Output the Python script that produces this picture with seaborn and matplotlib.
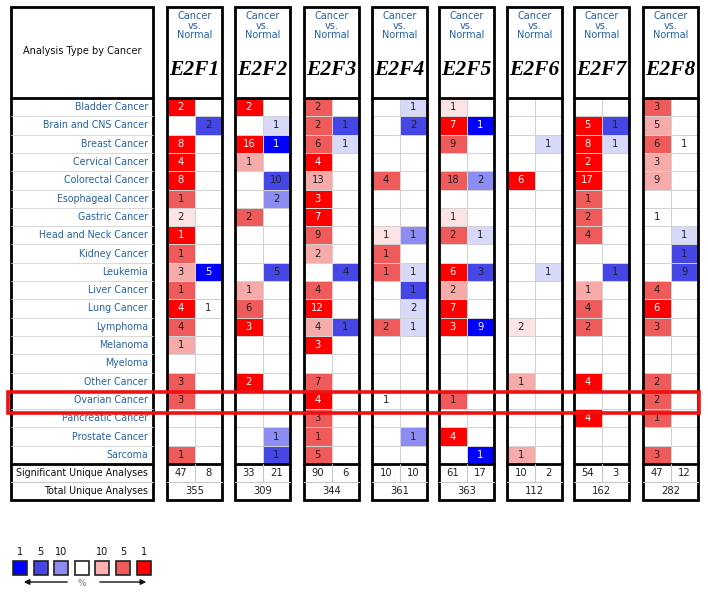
import matplotlib
matplotlib.use("Agg")
import numpy as np
import seaborn as sns
import matplotlib.pyplot as plt
from matplotlib.colors import ListedColormap
from matplotlib.patches import Rectangle

# ---------------- data ----------------
cancers = ["Bladder Cancer", "Brain and CNS Cancer", "Breast Cancer", "Cervical Cancer",
           "Colorectal Cancer", "Esophageal Cancer", "Gastric Cancer", "Head and Neck Cancer",
           "Kidney Cancer", "Leukemia", "Liver Cancer", "Lung Cancer", "Lymphoma", "Melanoma",
           "Myeloma", "Other Cancer", "Ovarian Cancer", "Pancreatic Cancer", "Prostate Cancer",
           "Sarcoma"]
genes = ["E2F1", "E2F2", "E2F3", "E2F4", "E2F5", "E2F6", "E2F7", "E2F8"]

# counts of over-expression (red) analyses per cancer, None = empty
e2f1_up = [2, None, 8, 4, 8, 1, 2, 1, 1, 3, 1, 4, 4, 1, None, 3, 3, None, None, 1]
e2f2_up = [2, None, 16, 1, None, None, 2, None, None, None, 1, 6, 3, None, None, 2, None, None, None, None]
e2f3_up = [2, 2, 6, 4, 13, 3, 7, 9, 2, None, 4, 12, 4, 3, None, 7, 4, 3, 1, 5]
e2f4_up = [None, None, None, None, 4, None, None, 1, 1, 1, None, None, 2, None, None, None, 1, None, None, None]
e2f5_up = [1, 7, 9, None, 18, None, 1, 2, None, 6, 2, 7, 3, None, None, None, 1, None, 4, None]
e2f6_up = [None, None, None, None, 6, None, None, None, None, None, None, None, 2, None, None, 1, None, None, None, 1]
e2f7_up = [None, 5, 8, 2, 17, 1, 2, 4, None, None, 1, 4, 2, None, None, 4, None, 4, None, None]
e2f8_up = [3, 5, 6, 3, 9, None, 1, None, None, None, 4, 6, 3, None, None, 2, 2, 1, None, 3]
# gene-rank level of the red cells: 4 = top 1%, 3 = top 5%, 2 = top 10%, 1 = lighter, 0 = no colour
e2f1_up_lvl = [4, 0, 4, 4, 4, 3, 1, 4, 3, 2, 3, 4, 3, 2, 0, 3, 3, 0, 0, 3]
e2f2_up_lvl = [4, 0, 4, 2, 0, 0, 3, 0, 0, 0, 2, 3, 4, 0, 0, 4, 0, 0, 0, 0]
e2f3_up_lvl = [3, 3, 3, 4, 2, 4, 4, 3, 2, 0, 3, 4, 2, 4, 0, 3, 4, 3, 3, 3]
e2f4_up_lvl = [0, 0, 0, 0, 3, 0, 0, 1, 3, 3, 0, 0, 3, 0, 0, 0, 0, 0, 0, 0]
e2f5_up_lvl = [1, 4, 3, 0, 3, 0, 1, 3, 0, 4, 2, 4, 4, 0, 0, 0, 3, 0, 4, 0]
e2f6_up_lvl = [0, 0, 0, 0, 4, 0, 0, 0, 0, 0, 0, 0, 1, 0, 0, 2, 0, 0, 0, 2]
e2f7_up_lvl = [0, 4, 4, 4, 4, 3, 3, 3, 0, 0, 2, 3, 3, 0, 0, 4, 0, 4, 0, 0]
e2f8_up_lvl = [3, 2, 3, 2, 2, 0, 0, 0, 0, 0, 3, 4, 3, 0, 0, 3, 3, 3, 0, 3]

# counts of under-expression (blue) analyses per cancer
e2f1_down = [None, 2, None, None, None, None, None, None, None, 5, None, 1, None, None, None, None, None, None, None, None]
e2f2_down = [None, 1, 1, None, 10, 2, None, None, None, 5, None, None, None, None, None, None, None, None, 1, 1]
e2f3_down = [None, 1, 1, None, None, None, None, None, None, 4, None, None, 1, None, None, None, None, None, None, None]
e2f4_down = [1, 2, None, None, None, None, None, 1, None, 1, 1, 2, 1, None, None, None, None, None, 1, None]
e2f5_down = [None, 1, None, None, 2, None, None, 1, None, 3, None, None, 9, None, None, None, None, None, None, 1]
e2f6_down = [None, None, 1, None, None, None, None, None, None, 1, None, None, None, None, None, None, None, None, None, None]
e2f7_down = [None, 1, 1, None, None, None, None, None, None, 1, None, None, None, None, None, None, None, None, None, None]
e2f8_down = [None, None, 1, None, None, None, None, 1, 1, 9, None, None, None, None, None, None, None, None, None, None]
e2f1_down_lvl = [0, 3, 0, 0, 0, 0, 0, 0, 0, 4, 0, 0, 0, 0, 0, 0, 0, 0, 0, 0]
e2f2_down_lvl = [0, 1, 4, 0, 3, 2, 0, 0, 0, 3, 0, 0, 0, 0, 0, 0, 0, 0, 2, 3]
e2f3_down_lvl = [0, 3, 1, 0, 0, 0, 0, 0, 0, 3, 0, 0, 3, 0, 0, 0, 0, 0, 0, 0]
e2f4_down_lvl = [1, 3, 0, 0, 0, 0, 0, 2, 0, 1, 3, 1, 1, 0, 0, 0, 0, 0, 2, 0]
e2f5_down_lvl = [0, 4, 0, 0, 2, 0, 0, 1, 0, 3, 0, 0, 4, 0, 0, 0, 0, 0, 0, 4]
e2f6_down_lvl = [0, 0, 1, 0, 0, 0, 0, 0, 0, 1, 0, 0, 0, 0, 0, 0, 0, 0, 0, 0]
e2f7_down_lvl = [0, 3, 1, 0, 0, 0, 0, 0, 0, 3, 0, 0, 0, 0, 0, 0, 0, 0, 0, 0]
e2f8_down_lvl = [0, 0, 0, 0, 0, 0, 0, 1, 3, 3, 0, 0, 0, 0, 0, 0, 0, 0, 0, 0]

sig_up = [47, 33, 90, 10, 61, 10, 54, 47]
sig_down = [8, 21, 6, 10, 17, 2, 3, 12]
total_analyses = [355, 309, 344, 361, 363, 112, 162, 282]
highlight_row = "Ovarian Cancer"

legend_labels = ["1", "5", "10", "", "10", "5", "1"]

ups = [e2f1_up, e2f2_up, e2f3_up, e2f4_up, e2f5_up, e2f6_up, e2f7_up, e2f8_up]
up_lvls = [e2f1_up_lvl, e2f2_up_lvl, e2f3_up_lvl, e2f4_up_lvl, e2f5_up_lvl, e2f6_up_lvl, e2f7_up_lvl, e2f8_up_lvl]
downs = [e2f1_down, e2f2_down, e2f3_down, e2f4_down, e2f5_down, e2f6_down, e2f7_down, e2f8_down]
down_lvls = [e2f1_down_lvl, e2f2_down_lvl, e2f3_down_lvl, e2f4_down_lvl, e2f5_down_lvl, e2f6_down_lvl,
             e2f7_down_lvl, e2f8_down_lvl]

# ---------------- style ----------------
sns.set_theme(style="white")
plt.rcParams["font.family"] = ["DejaVu Sans"]

blues = ["#0000FF", "#4646E6", "#8C8CF2", "#D8D8F8"]   # level 4..1
reds = ["#FCE4E4", "#F7AAAA", "#EF5B5B", "#FF0000"]    # level 1..4
cmap = ListedColormap(blues + ["#FFFFFF"] + reds)
label_blue = "#2563A6"

W, H = 708, 594
TOP = 7
HDR = 98
ROWH = 18.3
NR = len(cancers)
BODY_END = HDR + NR * ROWH
SUMH = 18
BOX_END = BODY_END + 2 * SUMH
GX = [167, 235, 304, 372, 439, 507, 574, 643]
GW = 55

fig = plt.figure(figsize=(7.08, 5.94), dpi=100)
fig.patch.set_facecolor("white")

ov = fig.add_axes([0, 0, 1, 1], zorder=3)
ov.set_xlim(0, W)
ov.set_ylim(H, 0)
ov.axis("off")
ov.patch.set_alpha(0)

# gene heatmaps
for g, name in enumerate(genes):
    x0 = GX[g]
    ax = fig.add_axes([x0 / W, 1 - BODY_END / H, GW / W, NR * ROWH / H], zorder=1)
    mat = np.array([[up_lvls[g][i], -down_lvls[g][i]] for i in range(NR)], dtype=float)
    sns.heatmap(mat, ax=ax, cmap=cmap, vmin=-4.5, vmax=4.5, cbar=False,
                linewidths=0.6, linecolor="#d2d2d2", xticklabels=False, yticklabels=False)
    for i in range(NR):
        for j, (vals, lv) in enumerate(((ups[g], up_lvls[g]), (downs[g], down_lvls[g]))):
            if vals[i] is not None:
                ax.text(j + 0.5, i + 0.5, str(vals[i]), ha="center", va="center",
                        fontsize=7.2, color="white" if lv[i] == 4 else "#222222")

    # box + header
    ov.add_patch(Rectangle((x0, TOP), GW, BOX_END - TOP, fill=False, lw=2, ec="black"))
    ov.plot([x0, x0 + GW], [HDR, HDR], color="black", lw=2)
    ov.plot([x0, x0 + GW], [BODY_END, BODY_END], color="black", lw=2)
    ov.plot([x0, x0 + GW], [BODY_END + SUMH, BODY_END + SUMH], color="#c8c8c8", lw=0.8)
    ov.plot([x0 + GW / 2, x0 + GW / 2], [BODY_END, BODY_END + SUMH], color="#c8c8c8", lw=0.8)
    for k, t in enumerate(["Cancer", "vs.", "Normal"]):
        ov.text(x0 + GW / 2, 16 + k * 9.7, t, ha="center", va="center", fontsize=7, color=label_blue)
    ov.text(x0 + GW / 2, 70, name, ha="center", va="center", fontsize=15.5,
            family="Liberation Serif", weight="bold", style="italic", color="black")
    ov.text(x0 + GW / 4, BODY_END + SUMH / 2, str(sig_up[g]), ha="center", va="center",
            fontsize=7.2, color="#222222")
    ov.text(x0 + 3 * GW / 4, BODY_END + SUMH / 2, str(sig_down[g]), ha="center", va="center",
            fontsize=7.2, color="#222222")
    ov.text(x0 + GW / 2, BODY_END + 1.5 * SUMH, str(total_analyses[g]), ha="center", va="center",
            fontsize=7.2, color="#222222")

# left label box
LX0, LX1 = 11, 153
ov.add_patch(Rectangle((LX0, TOP), LX1 - LX0, BOX_END - TOP, fill=False, lw=2, ec="black"))
ov.plot([LX0, LX1], [HDR, HDR], color="black", lw=2)
ov.plot([LX0, LX1], [BODY_END, BODY_END], color="black", lw=2)
ov.plot([LX0, LX1], [BODY_END + SUMH, BODY_END + SUMH], color="#c8c8c8", lw=0.8)
for i in range(1, NR):
    ov.plot([LX0, LX1], [HDR + i * ROWH, HDR + i * ROWH], color="#d2d2d2", lw=0.6)
ov.text((LX0 + LX1) / 2, 51, "Analysis Type by Cancer", ha="center", va="center",
        fontsize=7, color="#111111")
for i, c in enumerate(cancers):
    ov.text(LX1 - 5, HDR + (i + 0.5) * ROWH, c, ha="right", va="center", fontsize=6.85,
            color=label_blue)
ov.text(LX1 - 5, BODY_END + SUMH / 2, "Significant Unique Analyses", ha="right", va="center",
        fontsize=6.85, color="#111111")
ov.text(LX1 - 5, BODY_END + 1.5 * SUMH, "Total Unique Analyses", ha="right", va="center",
        fontsize=6.85, color="#111111")

# highlighted row
hi = cancers.index(highlight_row)
ov.add_patch(Rectangle((8, HDR + hi * ROWH + 1), 699 - 8, ROWH + 3, fill=False, lw=2.6,
                       ec="#EE1111", zorder=5))

# legend
leg_colors = [blues[0], blues[1], blues[2], "#FFFFFF", "#FFB0B0", reds[2], reds[3]]
for k, (lab, col) in enumerate(zip(legend_labels, leg_colors)):
    lx = 13 + k * 20.6
    ov.add_patch(Rectangle((lx, 561), 14, 14, fc=col, ec="#222222", lw=1.2))
    if lab:
        ov.text(lx + 7, 552, lab, ha="center", va="center", fontsize=7, color="#111111")
ov.annotate("", xy=(21, 582), xytext=(70, 582),
            arrowprops=dict(arrowstyle="-|>", color="#111111", lw=1, mutation_scale=8))
ov.annotate("", xy=(149, 582), xytext=(97, 582),
            arrowprops=dict(arrowstyle="-|>", color="#111111", lw=1, mutation_scale=8))
ov.text(82, 583, "%", ha="center", va="center", fontsize=6.5, color="#777777")

fig.savefig("out.png", dpi=100, facecolor="white")
